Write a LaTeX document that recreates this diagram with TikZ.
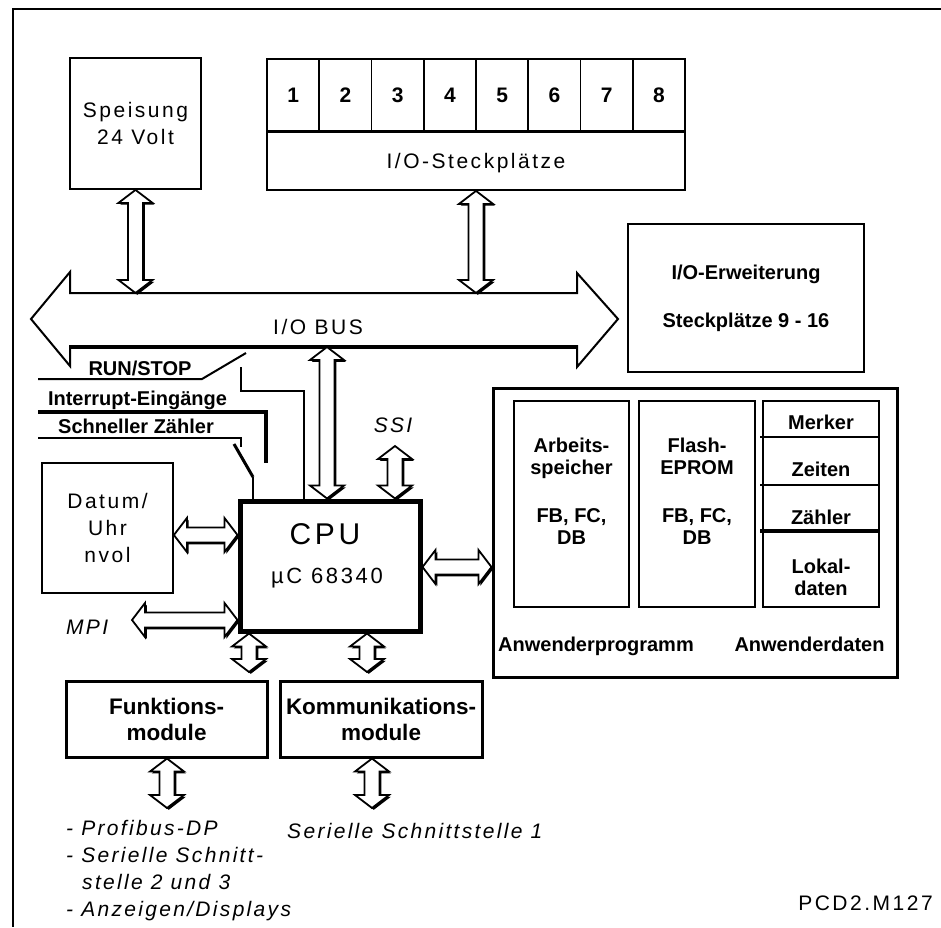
\documentclass[tikz,border=0pt]{standalone}
\usepackage{fontspec}
\setmainfont{Liberation Sans}
\newfontfamily\spacedsans[LetterSpace=12]{Liberation Sans}
\newfontfamily\spacedital[LetterSpace=11]{Liberation Sans}
\usetikzlibrary{calc,shadows}

\begin{document}
\begin{tikzpicture}[x=1pt, y=-1pt, line join=miter,
  box/.style={draw, rectangle, line width=1.8pt},
  rtext/.style={font=\spacedsans\fontsize{21}{27}\selectfont},
  itext/.style={font=\spacedital\itshape\fontsize{21}{27}\selectfont},
  btext/.style={font=\bfseries\fontsize{20}{22}\selectfont},
  oneline/.style={text height=15pt, text depth=0pt},
  boneline/.style={text height=14.3pt, text depth=0pt},
  lbl/.style={inner sep=0pt},
  wire/.style={line width=2pt},
  dbl/.style={draw, fill=white, line width=1.8pt,
    drop shadow={shadow xshift=1.8pt, shadow yshift=-1.8pt, opacity=1, fill=black}},
  % hollow double arrow, start on top, target below
  vdbl/.style={dbl, to path={let \p1=(\tikztostart), \p2=(\tikztotarget) in
    (\x1,\y1) -- (\x1+17pt,\y1-13pt) -- (\x1+7.5pt,\y1-13pt) -- (\x1+7.5pt,\y2+13pt)
    -- (\x1+17pt,\y2+13pt) -- (\x1,\y2) -- (\x1-17pt,\y2+13pt) -- (\x1-7.5pt,\y2+13pt)
    -- (\x1-7.5pt,\y1-13pt) -- (\x1-17pt,\y1-13pt) -- cycle}},
  % hollow double arrow, start on the left, target on the right
  hdbl/.style={dbl, to path={let \p1=(\tikztostart), \p2=(\tikztotarget) in
    (\x1,\y1) -- (\x1+13pt,\y1+17pt) -- (\x1+13pt,\y1+7.5pt) -- (\x2-13pt,\y1+7.5pt)
    -- (\x2-13pt,\y1+17pt) -- (\x2,\y1) -- (\x2-13pt,\y1-17pt) -- (\x2-13pt,\y1-7.5pt)
    -- (\x1+13pt,\y1-7.5pt) -- (\x1+13pt,\y1-17pt) -- cycle}},
]
\useasboundingbox (0,0) rectangle (941,927);

% outer frame
\draw[line width=2.2pt] (941,9) -- (13,9) -- (13,927);

% power supply
\node[box, minimum width=131pt, minimum height=131pt, rtext, align=center]
  (speis) at (135.5,123.5) {Speisung\\24 Volt};

% I/O slots
\foreach \i in {1,...,8}
  \node[box, minimum width=52.25pt, minimum height=72pt, inner sep=0pt,
    font=\bfseries\fontsize{21}{22}\selectfont, text height=15pt, text depth=0pt]
    (slot\i) at ({267+52.25*(\i-0.5)},95) {\i};
\node[box, minimum width=418pt, minimum height=58pt, rtext, oneline, inner sep=0pt]
  (steck) at (476,161) {I/O-Steckplätze};

% I/O bus
\draw[line width=2pt] (31,319) -- (70,272) -- (70,293) -- (577,293) -- (577,273)
  -- (618,319) -- (577,367) -- (577,346) -- (70,346) -- (70,366) -- cycle;
\draw[line width=4pt] (70,346.5) -- (577,346.5);
\node[lbl, rtext, oneline] (buslbl) at (318,327) {I/O BUS};
\coordinate (bustop) at (0,293);
\coordinate (busbot) at (0,347);

% I/O extension
\node[box, minimum width=236pt, minimum height=148pt, btext, align=center]
  (erw) at (746,298) {I/O-Erweiterung\\[26pt]Steckplätze 9 - 16};

% CPU
\node[box, line width=5pt, minimum width=180pt, minimum height=130pt] (cpu) at (330,566) {};
\node[lbl, font=\spacedsans\fontsize{30}{30}\selectfont, text height=21.5pt, text depth=0pt]
  (cpulbl) at (325,534) {CPU};
\node[lbl, font=\spacedsans\fontsize{22}{22}\selectfont, text height=15.8pt, text depth=0pt]
  (cpumc) at (327,576) {µC 68340};

% clock
\node[box, minimum width=131pt, minimum height=130pt, rtext, align=center]
  (datum) at (107.5,528) {Datum/\\Uhr\\nvol};

% function and communication modules
\node[box, line width=3pt, minimum width=201pt, minimum height=76pt, align=center,
  font=\bfseries\fontsize{22.5}{26}\selectfont] (funk) at (166.5,719) {Funktions-\\module};
\node[box, line width=3pt, minimum width=202pt, minimum height=76pt, align=center,
  font=\bfseries\fontsize{22.5}{26}\selectfont] (komm) at (381,719) {Kommunikations-\\module};

% user memory
\node[box, line width=3pt, minimum width=404pt, minimum height=289pt] (mem) at (695,532.5) {};
\node[box, line width=1.5pt, minimum width=115pt, minimum height=206pt] (ram) at (571.5,504) {};
\node[box, line width=2.5pt, minimum width=116pt, minimum height=206pt] (flash) at (697,504) {};
\node[box, line width=2pt, minimum width=116pt, minimum height=206pt] (daten) at (821,504) {};
\draw[line width=2pt] ($(daten.north west)+(-2,37)$) -- ($(daten.north east)+(0,37)$);
\draw[line width=2pt] ($(daten.north west)+(-2,85)$) -- ($(daten.north east)+(0,85)$);
\draw[line width=3.5pt] ($(daten.north west)+(-2,131)$) -- ($(daten.north east)+(0,131)$);

\node[lbl, btext, align=center, anchor=north] (ramtxt) at (571.5,438)
  {Arbeits-\\speicher\\[26pt]FB, FC,\\DB};
\node[lbl, btext, align=center, anchor=north] (flashtxt) at (697,438)
  {Flash-\\EPROM\\[26pt]FB, FC,\\DB};
\node[lbl, btext, boneline] (merker) at (821,422) {Merker};
\node[lbl, btext, boneline] (zeiten) at (821,469) {Zeiten};
\node[lbl, btext, boneline] (zaehler) at (821,517) {Zähler};
\node[lbl, btext, align=center, anchor=north] (lokal) at (821,559) {Lokal-\\daten};
\node[lbl, btext, boneline, anchor=west] (anwprog) at (498,644) {Anwenderprogramm};
\node[lbl, btext, boneline] (anwdat) at (809.5,644) {Anwenderdaten};

% inputs and switches
\coordinate (runin) at (38,379);
\coordinate (runk) at (304,391);
\draw[wire] (runin) -- (202,379) -- (246,353);
\draw[line width=2.5pt] (241,367) -- (241,391) -- (runk) -- (runk |- cpu.north);
\node[lbl, btext, boneline] (runlbl) at (140,368.5) {RUN/STOP};

\coordinate (intin) at (38,412);
\draw[line width=4.5pt] (intin) -- (266,412) -- (266,463);
\node[lbl, btext, boneline] (intlbl) at (137.5,398) {Interrupt-Eingänge};

\coordinate (cntin) at (38,438);
\coordinate (cntk) at (253,477);
\draw[wire] (cntin) -- (241,438) -- (241,447);
\draw[line width=3pt] (234,444) -- (cntk);
\draw[line width=2.5pt] (cntk) -- (cntk |- cpu.north);
\node[lbl, btext, boneline] (cntlbl) at (136,426.5) {Schneller Zähler};

% connections
\path[vdbl] (speis.south) to (speis.south |- bustop);
\path[vdbl] (steck.south) to (steck.south |- bustop);
\coordinate (cpuup) at (327,0);
\path[vdbl] (cpuup |- busbot) to (cpuup |- cpu.north);
\coordinate (ssi) at (395,446);
\path[vdbl] (ssi) to (ssi |- cpu.north);
\node[lbl, itext, oneline] (ssilbl) at (393,425) {SSI};

\coordinate (datumlvl) at (0,535);
\path[hdbl] (datum.east |- datumlvl) to (cpu.west |- datumlvl);
\coordinate (mpi) at (132,620);
\path[hdbl] (mpi) to (cpu.west |- mpi);
\node[lbl, itext, oneline, anchor=west] (mpilbl) at (66,627) {MPI};
\coordinate (memlvl) at (0,567);
\path[hdbl] (cpu.east |- memlvl) to (mem.west |- memlvl);

\coordinate (fdown) at (249,672);
\coordinate (kdown) at (367,672);
\path[vdbl] (fdown |- cpu.south) to (fdown);
\path[vdbl] (kdown |- cpu.south) to (kdown);
\coordinate (fout) at (167,808);
\coordinate (kout) at (372,808);
\path[vdbl] (fout |- funk.south) to (fout);
\path[vdbl] (kout |- komm.south) to (kout);

% interface lists
\node[lbl, itext, align=left, anchor=north west] (flist) at (66,820.5)
  {- Profibus-DP\\- Serielle Schnitt-\\\hspace*{16pt}stelle 2 und 3\\- Anzeigen/Displays};
\node[lbl, itext, oneline, anchor=west] (klist) at (287,831) {Serielle Schnittstelle 1};

\node[lbl, rtext, oneline, anchor=east] (typ) at (933,903) {PCD2.M127};
\end{tikzpicture}
\end{document}
